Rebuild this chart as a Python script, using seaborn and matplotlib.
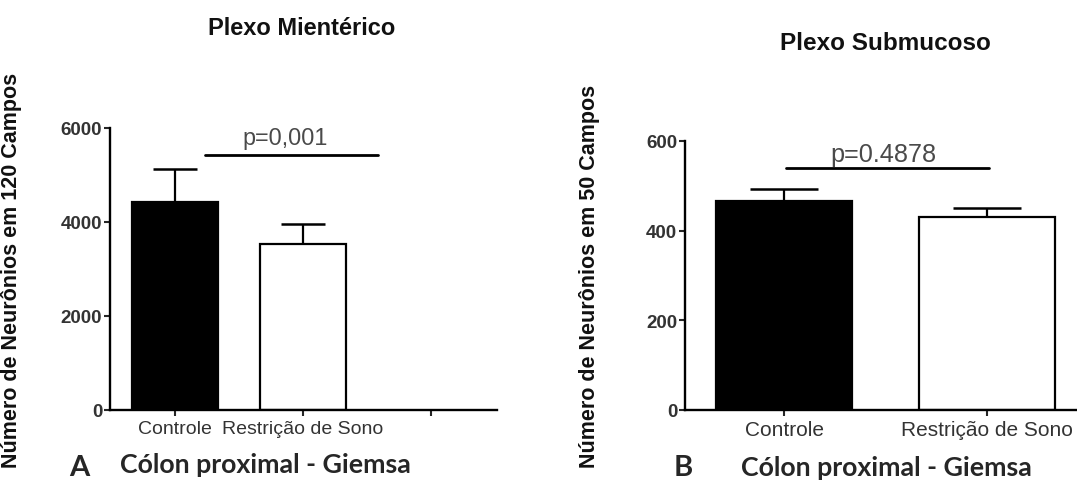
import matplotlib
matplotlib.use('Agg')
import matplotlib.pyplot as plt
import seaborn as sns

# Data (mean and upper SEM)
groups = ['Controle', 'Restrição de Sono']
mienterico_mean = [4420, 3530]
mienterico_sem = [710, 430]
submucoso_mean = [466, 431]
submucoso_sem = [27, 20]

sns.set_style('ticks')
plt.rcParams['font.family'] = ['Liberation Sans', 'DejaVu Sans']

fig = plt.figure(figsize=(10.77, 4.81), dpi=100)
W, H = 1077, 481

# axes placed in pixel units of the target
axA = fig.add_axes([110 / W, 1 - 411 / H, 387 / W, 282 / H])
axB = fig.add_axes([685 / W, 1 - 411 / H, 392 / W, 269 / H])

tick_col = '#333333'


def draw_panel(ax, means, sems, order, yticks, capsize, tick_fs, ylabel, label_x):
    sns.barplot(x=groups, y=means, hue=groups, order=order,
                palette={'Controle': 'black', 'Restrição de Sono': 'white'},
                edgecolor='black', linewidth=1.6, width=0.67,
                errorbar=None, legend=False, ax=ax)
    eb = ax.errorbar(x=[0, 1], y=means, yerr=[[0, 0], sems], fmt='none',
                     ecolor='black', elinewidth=1.6, capsize=capsize,
                     capthick=1.8, zorder=1)
    # only the upper cap, as in the original
    eb[1][0].set_visible(False)
    ax.set_ylim(0, yticks[-1])
    ax.set_yticks(yticks)
    for s in ['top', 'right']:
        ax.spines[s].set_visible(False)
    for s in ['left', 'bottom']:
        ax.spines[s].set_linewidth(1.7)
        ax.spines[s].set_color('black')
    ax.tick_params(axis='y', length=4.5, width=1.5, pad=1, labelsize=13.5,
                   labelcolor=tick_col)
    ax.tick_params(axis='x', length=4.5, width=1.5, pad=3, labelsize=tick_fs,
                   labelcolor=tick_col)
    for t in ax.get_yticklabels():
        t.set_fontweight('bold')
    ax.set_xlabel('')
    ax.set_ylabel(ylabel, fontsize=15.5, fontweight='bold', color='#111111')
    ax.yaxis.set_label_coords(label_x, 0.5)


draw_panel(axA, mienterico_mean, mienterico_sem,
           ['Controle', 'Restrição de Sono', ' '], [0, 2000, 4000, 6000], 15.5, 14,
           'Número de Neurônios em 120 Campos', -0.227)
axA.set_xlim(-0.51, 2.52)

draw_panel(axB, submucoso_mean, submucoso_sem,
           groups, [0, 200, 400, 600], 24.5, 15,
           'Número de Neurônios em 50 Campos', -0.217)
axB.set_xlim(-0.49, 1.445)

# significance lines
axA.plot([0.23, 1.59], [5426, 5426], color='black', lw=2, clip_on=False)
axA.text(0.86, 5660, 'p=0,001', ha='center', va='baseline', fontsize=16.8,
         color='#4a4a4a', clip_on=False)
axB.plot([0.01, 1.01], [540, 540], color='black', lw=2, clip_on=False)
axB.text(0.49, 556, 'p=0.4878', ha='center', va='baseline', fontsize=18.2,
         color='#4a4a4a', clip_on=False)

# titles
fig.text(302 / W, 1 - 35 / H, 'Plexo Mientérico', ha='center', va='baseline',
         fontsize=17, fontweight='bold', color='#111111')
fig.text(885 / W, 1 - 50 / H, 'Plexo Submucoso', ha='center', va='baseline',
         fontsize=17.5, fontweight='bold', color='#111111')

# panel captions
cap_font = ['Lato', 'DejaVu Sans']
fig.text(79 / W, 1 - 476 / H, 'A', ha='center', va='baseline', fontsize=21,
         fontweight='bold', family=cap_font)
fig.text(265 / W, 1 - 473 / H, 'Cólon proximal - Giemsa', ha='center',
         va='baseline', fontsize=19.3, fontweight='bold', family=cap_font)
fig.text(683 / W, 1 - 476 / H, 'B', ha='center', va='baseline', fontsize=21,
         fontweight='bold', family=cap_font)
fig.text(886 / W, 1 - 476 / H, 'Cólon proximal - Giemsa', ha='center',
         va='baseline', fontsize=19.3, fontweight='bold', family=cap_font)

fig.savefig('out.png', dpi=100)
